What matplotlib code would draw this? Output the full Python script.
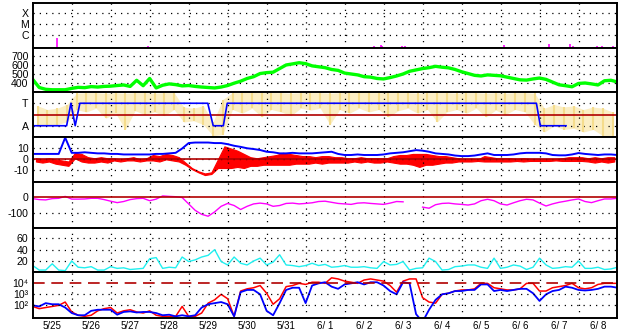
import numpy as np
import matplotlib
matplotlib.use("Agg")
import matplotlib.pyplot as plt

plt.rcParams['font.family'] = ['Liberation Sans Narrow', 'Liberation Sans', 'DejaVu Sans']

# time in days from 5/25 00:00, 4-hour samples
t4 = np.arange(91) / 6.0

day_labels = ['5/25', '5/26', '5/27', '5/28', '5/29', '5/30', '5/31',
              '6/ 1', '6/ 2', '6/ 3', '6/ 4', '6/ 5', '6/ 6', '6/ 7', '6/ 8']

# x-ray events (day, log10 flux)
xray_day = [0.62, 2.96, 7.78, 8.76, 8.94, 8.97, 9.07, 9.48, 9.55, 12.09,
            13.25, 13.79, 13.87, 14.48, 14.61, 14.89]
xray_log = [-6.26, -6.96, -7.05, -7.0, -6.91, -6.96, -7.05, -6.96, -6.96, -6.87,
            -6.78, -6.78, -7.0, -6.96, -6.96, -7.0]

# solar wind speed km/s
speed = [440, 350, 330, 325, 325, 325,
         340, 352, 348, 360, 355, 362,
         365, 372, 378, 362, 430, 370,
         450, 345, 375, 390, 382, 368,
         372, 362, 355, 350, 345, 355,
         372, 398, 420, 450, 470, 505,
         515, 520, 560, 600, 612, 625,
         615, 590, 580, 570, 550, 540,
         510, 500, 490, 470, 465, 450,
         445, 460, 478, 500, 530, 545,
         560, 570, 585, 575, 568, 550,
         525, 505, 485, 478, 490, 485,
         480, 465, 450, 435, 432, 445,
         455, 440, 410, 380, 370, 358,
         395, 400, 390, 378, 425, 430,
         411]

# IMF phi angle, 6-hour bins: low / high
phi_lo = [80, 90, 100, 120,
          220, 200, 230, 150,
          190, 60, 210, 180,
          200, 170, 220, 120,
          130, 100, 10, 20,
          220, 190, 230, 160,
          220, 200, 170, 230,
          215, 230, 100, 220,
          190, 230, 200, 220,
          160, 210, 230, 190,
          220, 120, 200, 220,
          190, 230, 160, 215,
          180, 220, 200, 100,
          40, 90, 60, 70,
          40, 60, 10, 0]
phi_hi = [250, 220, 230, 260,
          350, 355, 355, 350,
          355, 350, 355, 355,
          350, 355, 355, 240,
          230, 250, 120, 300,
          355, 355, 360, 355,
          355, 355, 350, 355,
          355, 355, 350, 355,
          355, 360, 355, 355,
          355, 355, 355, 350,
          355, 355, 355, 350,
          355, 355, 350, 355,
          350, 355, 355, 350,
          230, 260, 240, 250,
          220, 240, 230, 200]

# sector line (toward / away)
sector_day = [0, 0.87, 0.98, 1.09, 1.21, 4.49, 4.63, 4.89, 4.99, 12.92, 13.02, 13.68]
sector_phi = [90, 90, 270, 90, 270, 270, 90, 90, 270, 270, 90, 90]

# Bt (nT)
bt = [5, 5, 5, 5, 5, 20,
      6, 6, 6.5, 6, 5.5, 5.5,
      5, 5, 4.5, 4.5, 4.5, 4.5,
      4.5, 5, 5, 5.5, 6, 10,
      15, 15.5, 15.5, 15.5, 15, 15,
      14, 12.5, 11.5, 10.2, 9.5, 8.6,
      7, 6.5, 5.5, 5.5, 6, 5.5,
      5.5, 5.5, 6, 6.5, 7, 5,
      4, 4, 4.5, 4, 4, 4,
      4.5, 5.5, 6, 6.5, 7.5, 8.5,
      8, 7, 5.5, 5, 4.5, 3.5,
      3, 3, 3.5, 4.5, 5.5, 4,
      4, 4, 4.5, 5.5, 6, 6,
      6, 5.5, 4, 3.7, 3.7, 4.5,
      5.8, 5, 4.5, 4, 4.5, 4.5,
      4]

# Bz (nT), 4-hour bins: low / high
bz_hi = [1, 0, 1, 0, -1, -2,
         6, 5, 2, 1, 2, 1,
         1, 0, 1, 2, 0, 1,
         4, 3, 5, 4, 2, -3,
         -8, -11, -13, -12, 0, 12,
         10, 8, 5, 2, 1, 2,
         3, 4, 6, 5, 4, 3,
         3, 2, 3, 3, 2, 2,
         1, 1, 2, 1, 1, 1,
         1, 3, 4, 4, 5, 5,
         5, 4, 3, 3, 2, 1,
         0.5, 0.5, 0, 3, 2, 1,
         1, 1, 0.5, 1, 0.5, 0.5,
         0.5, 0.5, 0.5, 1, 2, 2,
         2, 1, 2, 1, 2, 2]
bz_lo = [-2, -3, -2, -4, -5, -6,
         1, -2, -3, -3, -2, -3,
         -1, -2, -1, -1, -2, -1,
         -1, -2, 0, -1, -2, -5,
         -9, -12, -14.5, -13.5, -8, -8,
         -8, -7, -8, -6, -6, -5,
         -5, -5, -5, -5, -4, -4,
         -4, -3, -4, -3, -3, -3,
         -3, -2, -3, -2, -3, -3,
         -2, -3, -4, -4, -5, -7,
         -5, -5, -4, -3, -3, -2,
         -2, -2, -1.5, -2, -2, -2,
         -2, -2, -1.5, -2, -1.5, -1.5,
         -1.5, -1.5, -1, -1.5, -1.5, -1.5,
         -1.5, -2, -3, -2, -3, -2]

# Dst (nT)
dst = [-12, -18, -20, -12, -10, 2,
       -15, -15, -14, -10, -10, -18,
       -28, -37, -30, -18, -12, -10,
       -25, -15, 5, 2, 0, -5,
       -45, -85, -110, -122, -95, -60,
       -42, -55, -80, -60, -45, -40,
       -45, -60, -55, -42, -40, -45,
       -42, -38, -30, -28, -35, -42,
       -45, -48, -40, -38, -42, -45,
       -48, -40, -30, -32, np.nan, np.nan,
       -65, -72, -50, -42, -40, -45,
       -48, -52, -45, -25, -16, -25,
       -45, -52, -38, -25, -16, -20,
       -40, -58, -45, -35, -28, -20,
       -14, -30, -37, -25, -14, -14,
       -10]

# proton density (p/cc)
density = [12, 4, 4, 15, 4, 3,
           20, 9, 8, 10, 4, 4,
           10, 7, 8, 5, 6, 7,
           24, 26, 7, 9, 8, 27,
           19, 22, 27, 30, 40, 19,
           13, 27, 16, 13, 20, 25,
           13, 18, 31, 13, 12, 10,
           12, 16, 12, 14, 9, 10,
           12, 9, 9, 10, 8, 7,
           19, 13, 14, 19, 4, 7,
           8, 25, 19, 4, 5, 10,
           11, 13, 13, 9, 7, 25,
           7, 9, 13, 11, 5, 9,
           25, 13, 7, 8, 10, 9,
           20, 7, 7, 9, 5, 6,
           9]

# particle flux, log10
flux_red_log = [1.9, 1.7, 1.8, 1.9, 2.0, 2.3,
                1.4, 1.1, 1.0, 1.1, 1.5, 1.7,
                1.8, 1.3, 1.5, 1.6, 1.4, 1.3,
                1.5, 1.1, 1.0, 1.0, 1.0, 1.9,
                1.0, 1.0, 1.3, 2.2, 2.5, 3.0,
                2.6, 1.0, 3.3, 3.5, 3.6, 3.8,
                3.1, 2.1, 2.6, 3.7, 3.8, 4.0,
                3.9, 4.1, 4.1, 4.0, 4.5, 4.4,
                4.2, 4.1, 4.0, 4.3, 4.4, 4.3,
                4.2, 3.8, 3.2, 4.2, 4.4, 4.4,
                2.7, 2.3, 2.2, 3.0, 3.1, 3.3,
                3.4, 3.4, 3.5, 4.0, 4.0, 3.6,
                3.5, 3.4, 3.4, 3.5, 4.0, 4.0,
                3.3, 3.3, 3.6, 3.7, 3.8, 4.0,
                3.6, 3.5, 3.6, 3.9, 4.0, 4.0,
                4.0]
flux_blue_log = [2.0, 1.9, 2.2, 2.1, 2.1, 1.8,
                 1.3, 1.1, 1.1, 1.5, 1.6, 1.6,
                 1.6, 1.15, 1.4, 1.45, 1.35, 1.4,
                 1.4, 1.3, 1.1, 1.15, 1.0, 1.1,
                 1.0, 1.1, 1.8, 2.1, 2.2, 2.3,
                 2.1, 1.0, 3.2, 3.4, 3.4, 3.0,
                 1.5, 1.1, 2.2, 3.4, 3.6, 3.6,
                 2.2, 3.8, 4.0, 4.1, 3.7, 3.5,
                 3.9, 4.0, 4.1, 3.9, 4.1, 4.1,
                 3.8, 3.3, 3.0, 4.1, 4.0, 1.2,
                 0.5, 1.6, 2.5, 3.0, 3.1, 3.3,
                 3.3, 3.4, 3.4, 3.9, 3.9, 3.3,
                 3.4, 3.3, 3.4, 3.5, 3.5, 3.1,
                 2.4, 3.0, 3.3, 3.4, 3.7, 3.6,
                 3.4, 3.35, 3.4, 3.5, 3.7, 3.7,
                 3.6]

W, H = 628, 334
bounds = [3, 47.5, 92, 137, 182, 227.5, 272, 318]
left, right = 32.7, 617.5

fig = plt.figure(figsize=(W / 100, H / 100), dpi=100)
axes = []
for i in range(7):
    top, bot = bounds[i], bounds[i + 1]
    ax = fig.add_axes([left / W, 1 - bot / H, (right - left) / W, (bot - top) / H])
    ax.set_xlim(0, 15)
    for s in ax.spines.values():
        s.set_linewidth(1.4)
    ax.tick_params(length=0, labelsize=7.6, pad=3)
    ax.set_xticks(np.arange(1, 15))
    ax.grid(axis='x', color='black', linestyle=(0, (1, 4)), linewidth=0.9)
    ax.set_xticklabels([])
    axes.append(ax)

dotted = dict(color='black', linestyle=(0, (1, 4)), linewidth=0.9)
darkred = '#b00000'

# x-ray
ax = axes[0]
ax.set_yscale('log')
ax.set_ylim(10 ** -7.14, 10 ** -3.09)
ax.vlines(xray_day, 10 ** -7.14, 10 ** np.array(xray_log), color='#ff00ff', linewidth=1.2)
ax.set_yticks([1e-6, 1e-5, 1e-4])
ax.set_yticklabels(['C', 'M', 'X'])
ax.minorticks_off()
ax.grid(axis='y', **dotted)

# speed
ax = axes[1]
ax.plot(t4, speed, color='#00ff00', linewidth=2.4)
ax.set_ylim(300, 794)
ax.set_yticks([400, 500, 600, 700])
ax.set_yticklabels(['400', '500', '600', '700'])
ax.grid(axis='y', **dotted)

# phi
ax = axes[2]
phi_t = np.arange(60) / 4.0 + 0.125
ax.fill_between(phi_t, phi_lo, phi_hi, color='#fbeec4', linewidth=0)
ax.vlines(phi_t, phi_lo, phi_hi, color='#f5dc8c', linewidth=1.5)
ax.axhline(180, color=darkred, linewidth=1.2)
ax.plot(sector_day, sector_phi, color='#0000ff', linewidth=1.2)
ax.set_ylim(0, 360)
ax.set_yticks([90, 270])
ax.set_yticklabels(['A', 'T'])
ax.grid(axis='y', **dotted)

# Bt / Bz
ax = axes[3]
ax.fill_between(t4[:90] + 1 / 12.0, bz_lo, bz_hi, color='#ff0000', linewidth=0.8)
ax.plot(t4, bt, color='#0000ff', linewidth=1.4)
ax.axhline(0, color=darkred, linewidth=1.2)
ax.set_ylim(-20.9, 20.6)
ax.set_yticks([-10, 0, 10])
ax.set_yticklabels(['-10', '0', '10'])
ax.grid(axis='y', **dotted)

# Dst
ax = axes[4]
ax.plot(t4, dst, color='#ff00ff', linewidth=1.0)
ax.axhline(0, color=darkred, linewidth=1.2)
ax.set_ylim(-192.5, 92)
ax.set_yticks([-100, 0])
ax.set_yticklabels(['-100', '0'])
ax.axhline(-100, **dotted)

# density
ax = axes[5]
ax.plot(t4, density, color='#20f0f0', linewidth=1.0)
ax.set_ylim(0.6, 79)
ax.set_yticks([20, 40, 60])
ax.set_yticklabels(['20', '40', '60'])
ax.grid(axis='y', **dotted)

# particle flux
ax = axes[6]
ax.set_yscale('log')
ax.plot(t4, 10 ** np.array(flux_red_log), color='#ff0000', linewidth=1.1)
ax.plot(t4, 10 ** np.array(flux_blue_log), color='#0000ff', linewidth=1.3)
ax.axhline(1e4, color=darkred, linewidth=1.2, linestyle=(0, (7, 4)))
ax.axhline(1e2, **dotted)
ax.axhline(1e3, **dotted)
ax.set_ylim(10 ** 0.85, 10 ** 5.03)
ax.set_yticks([1e2, 1e3, 1e4])
ax.set_yticklabels(['10\u00b2', '10\u00b3', '10\u2074'])
ax.minorticks_off()
ax.set_xticks(np.arange(15) + 0.5, minor=True)
ax.set_xticklabels(day_labels, minor=True, fontsize=7, family=['Liberation Sans', 'DejaVu Sans'])
ax.tick_params(axis='x', which='minor', length=0, pad=2)

fig.savefig('out.png', dpi=100)
